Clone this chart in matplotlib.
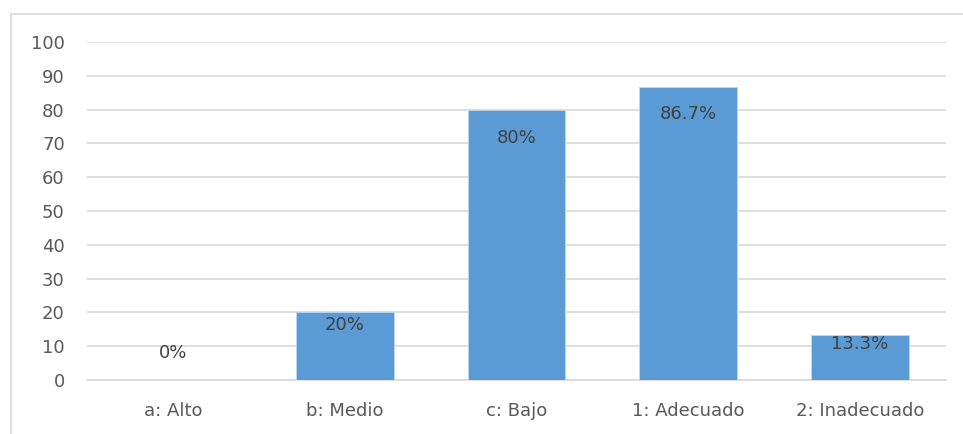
import matplotlib.pyplot as plt
from matplotlib.lines import Line2D

categories = ["a: Alto", "b: Medio", "c: Bajo", "1: Adecuado", "2: Inadecuado"]
values = [0, 20, 80, 86.7, 13.3]
labels = ["0%", "20%", "80%", "86.7%", "13.3%"]
yticks = [0, 10, 20, 30, 40, 50, 60, 70, 80, 90, 100]

plt.rcParams["font.family"] = ["DejaVu Sans"]

W, H = 963, 434
fig = plt.figure(figsize=(W / 100, H / 100), dpi=100)
ax = fig.add_axes([87 / W, 54 / H, (946 - 87) / W, (380 - 42) / H])

# outer chart frame: only top and left edges are visible
top = 1 - 13.5 / H
left = 10.5 / W
fig.lines.append(Line2D([left, 1.0], [top, top], transform=fig.transFigure,
                        color="#D9D9D9", lw=1.2))
fig.lines.append(Line2D([left, left], [0, top], transform=fig.transFigure,
                        color="#D9D9D9", lw=1.2))

x = range(len(categories))
bars = ax.bar(x, values, width=0.57, color="#5B9BD5", edgecolor="#BDD7EE",
              lw=0.6, zorder=3)

# label offsets in pixels below the bar top (0 bar label sits above)
offsets = [-27, 13, 28, 27, 9]
for b, v, lab, off in zip(bars, values, labels, offsets):
    ax.annotate(lab, (b.get_x() + b.get_width() / 2, v),
                xytext=(0, -off * 0.72), textcoords="offset points",
                ha="center", va="center", fontsize=13, color="#404040",
                zorder=4)

ax.set_xlim(-0.5, len(categories) - 0.5)
ax.set_ylim(0, 100)
ax.set_yticks(yticks)
ax.set_xticks(list(x))
ax.set_xticklabels(categories)
ax.tick_params(axis="both", length=0, labelsize=13, colors="#595959")
ax.tick_params(axis="y", pad=16)
ax.tick_params(axis="x", pad=16)
ax.grid(axis="y", color="#D9D9D9", lw=1.2, zorder=0)
for s in ["top", "right", "left"]:
    ax.spines[s].set_visible(False)
ax.spines["bottom"].set_color("#D9D9D9")
ax.spines["bottom"].set_linewidth(1.2)

fig.savefig("out.png", dpi=100)
